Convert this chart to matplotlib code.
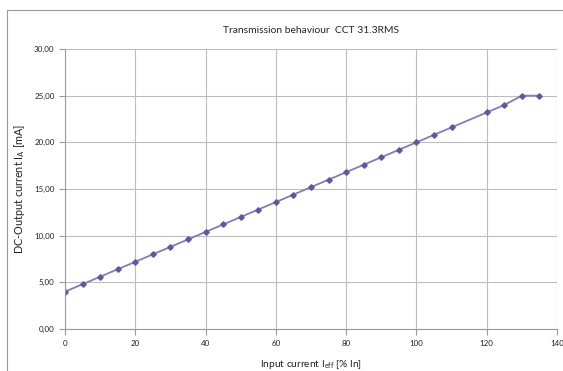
# transmission behaviour CCT 31.3RMS - DC output vs input current
import matplotlib
matplotlib.use('Agg')
import matplotlib.pyplot as plt
from matplotlib.patches import Rectangle
from matplotlib.ticker import FuncFormatter

# input current in % of In
i_in = [0, 5, 10, 15, 20, 25, 30, 35, 40, 45, 50, 55, 60, 65, 70, 75, 80,
        85, 90, 95, 100, 105, 110, 120, 125, 130, 135]
# DC output current in mA
i_out = [4.0, 4.8, 5.6, 6.4, 7.2, 8.0, 8.8, 9.6, 10.4, 11.2, 12.0, 12.8,
         13.6, 14.4, 15.2, 16.0, 16.8, 17.6, 18.4, 19.2, 20.0, 20.8, 21.6,
         23.2, 24.0, 25.0, 25.0]

x_ticks = [0, 20, 40, 60, 80, 100, 120, 140]
y_ticks = [0, 5, 10, 15, 20, 25, 30]

plt.rcParams['font.family'] = ['Lato', 'DejaVu Sans']
plt.rcParams['mathtext.fontset'] = 'custom'
plt.rcParams['mathtext.rm'] = 'Lato'

fig = plt.figure(figsize=(5.63, 3.71), dpi=100)
ax = fig.add_axes([65/563, 1-329/371, (557-65)/563, (329-49)/371])

# chart area border (Excel style), partly cut off on right/bottom
fig.patches.append(Rectangle((7/563, -0.1), 1.2, 1.1 - 10/371,
                             transform=fig.transFigure, fill=False,
                             edgecolor='#9a9a9a', linewidth=0.8))

ax.plot(i_in, i_out, color='#7f7fb8', linewidth=1.3, marker='D',
        markersize=2.8, markerfacecolor='#5b5b9c', markeredgecolor='#5b5b9c')

ax.set_xlim(0, 140)
ax.set_ylim(0, 30)
ax.set_xticks(x_ticks)
ax.set_yticks(y_ticks)
ax.yaxis.set_major_formatter(FuncFormatter(lambda v, p: f'{v:.2f}'.replace('.', ',')))
ax.grid(True, color='#bdbdbd', linewidth=0.8)
ax.set_axisbelow(True)
for s in ['top', 'right']:
    ax.spines[s].set_visible(False)
ax.spines['left'].set_color('#9a9a9a')
ax.spines['bottom'].set_color('#9a9a9a')
ax.tick_params(axis='both', labelsize=5.8, color='#9a9a9a', length=4,
               width=0.8, labelcolor='#222222')
ax.tick_params(axis='x', pad=4)

ax.set_title('Transmission behaviour  CCT 31.3RMS', fontsize=7.4,
             color='#222222', pad=11.5)
ax.set_xlabel(r'Input current I$_{\mathrm{eff}}$ [% In]', fontsize=7.3,
              color='#222222', labelpad=8)
ax.set_ylabel(r'DC-Output current I$_{\mathrm{A}}$ [mA]', fontsize=7.8,
              color='#222222', labelpad=5)

fig.savefig('out.png', dpi=100)
